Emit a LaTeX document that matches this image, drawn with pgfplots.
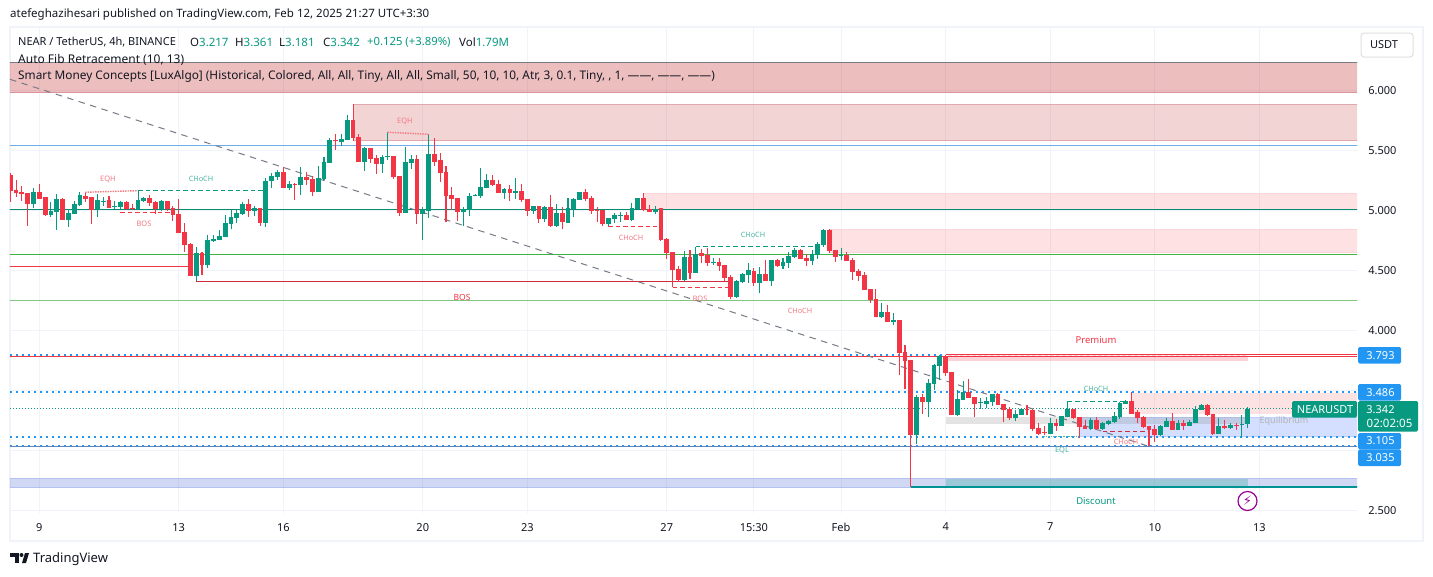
\documentclass[border=0pt]{standalone}
\usepackage{pgfplots}
\usepackage{pgfplotstable}
\usepackage{fontspec}
\pgfplotsset{compat=1.18}
\setmainfont{Noto Sans}
\newfontfamily\dejavu{DejaVu Sans}
\definecolor{upc}{HTML}{089981}
\definecolor{dnc}{HTML}{F23645}
\definecolor{gridc}{HTML}{F0F3FA}
\definecolor{framec}{HTML}{F0F3FA}
\definecolor{ink}{HTML}{131722}
\definecolor{blu}{HTML}{2196F3}
\definecolor{fibg}{HTML}{787B86}
\definecolor{palered}{HTML}{F27C84}
\definecolor{paleteal}{HTML}{4DB8A4}
\definecolor{zdark}{HTML}{B22833}
\definecolor{ztop}{HTML}{C62828}
\definecolor{zblue}{HTML}{2962FF}
\definecolor{zperi}{HTML}{2A4FCF}
\definecolor{lvlblue}{HTML}{6DAEE8}
\definecolor{lvlperi}{HTML}{5B86C4}
\pgfplotstableread{
i o h l c
4 5.053 5.183 5.019 5.150
7 4.961 5.069 4.944 4.992
8 4.986 5.133 4.836 5.092
10 4.919 5.008 4.861 4.975
11 4.969 5.075 4.969 5.050
12 5.044 5.150 5.036 5.125
15 5.006 5.133 4.944 5.083
16 5.072 5.108 5.033 5.078
18 5.025 5.075 5.011 5.033
19 5.025 5.075 5.011 5.067
22 5.006 5.161 5.000 5.083
23 5.078 5.108 5.064 5.100
26 5.006 5.083 4.989 5.075
32 4.450 4.689 4.408 4.642
34 4.542 4.792 4.519 4.750
35 4.742 4.792 4.736 4.758
36 4.750 4.833 4.750 4.783
37 4.775 4.958 4.775 4.892
38 4.883 5.000 4.839 4.942
39 4.933 5.000 4.892 4.975
40 4.967 5.067 4.958 5.050
42 4.992 5.033 4.950 5.017
44 4.892 5.267 4.858 5.242
45 5.242 5.306 5.183 5.283
46 5.275 5.333 5.250 5.317
48 5.183 5.239 5.167 5.217
50 5.208 5.358 5.125 5.275
53 5.150 5.367 5.150 5.267
54 5.258 5.442 5.250 5.400
55 5.392 5.600 5.392 5.583
57 5.567 5.633 5.533 5.592
58 5.583 5.792 5.583 5.750
61 5.400 5.525 5.325 5.517
64 5.383 5.458 5.308 5.442
65 5.442 5.650 5.417 5.450
68 4.975 5.525 4.975 5.400
69 5.392 5.458 5.342 5.425
71 4.967 5.025 4.750 5.000
72 4.992 5.633 4.933 5.467
78 4.983 5.025 4.867 5.006
79 5.000 5.142 4.950 5.117
80 5.117 5.133 5.117 5.125
81 5.114 5.350 5.097 5.192
82 5.183 5.300 5.181 5.250
85 5.142 5.183 5.092 5.175
87 5.142 5.267 5.092 5.158
90 4.992 5.033 4.967 5.033
92 4.925 5.033 4.903 5.025
94 4.867 5.050 4.861 4.975
96 4.892 5.100 4.889 5.017
97 5.008 5.100 4.944 5.092
98 5.083 5.150 5.083 5.150
103 4.881 4.933 4.861 4.933
104 4.925 4.972 4.889 4.958
105 4.953 4.981 4.903 4.961
107 4.917 5.056 4.911 5.017
108 5.008 5.100 5.008 5.100
111 4.983 5.033 4.967 5.008
116 4.417 4.658 4.408 4.608
118 4.475 4.694 4.475 4.633
121 4.558 4.600 4.542 4.567
125 4.275 4.417 4.267 4.408
126 4.400 4.475 4.392 4.467
127 4.458 4.558 4.392 4.500
129 4.392 4.525 4.308 4.467
131 4.408 4.583 4.367 4.583
133 4.533 4.597 4.511 4.567
134 4.558 4.650 4.517 4.617
135 4.608 4.681 4.600 4.667
138 4.575 4.667 4.542 4.633
139 4.625 4.733 4.592 4.717
140 4.708 4.842 4.694 4.833
143 4.617 4.683 4.583 4.625
150 4.108 4.225 4.100 4.150
152 4.069 4.142 4.042 4.083
156 3.125 3.458 3.050 3.442
158 3.400 3.592 3.275 3.558
159 3.550 3.717 3.500 3.708
160 3.700 3.792 3.583 3.783
163 3.292 3.500 3.283 3.425
164 3.417 3.575 3.417 3.483
167 3.392 3.433 3.342 3.400
168 3.383 3.442 3.350 3.408
169 3.400 3.467 3.367 3.467
173 3.267 3.333 3.242 3.300
174 3.292 3.342 3.292 3.342
179 3.133 3.267 3.133 3.225
181 3.200 3.283 3.200 3.283
182 3.275 3.339 3.272 3.339
186 3.175 3.267 3.167 3.250
188 3.175 3.233 3.167 3.225
189 3.217 3.250 3.208 3.242
190 3.233 3.317 3.225 3.283
191 3.275 3.400 3.258 3.392
192 3.386 3.417 3.383 3.406
198 3.125 3.208 3.117 3.200
199 3.192 3.267 3.192 3.242
201 3.167 3.250 3.167 3.225
203 3.200 3.250 3.200 3.233
204 3.225 3.367 3.225 3.339
205 3.333 3.383 3.333 3.375
208 3.133 3.267 3.133 3.200
210 3.183 3.225 3.175 3.208
212 3.208 3.292 3.100 3.217
213 3.217 3.361 3.181 3.342
}\upt
\pgfplotstableread{
i o h l c
0 5.292 5.311 5.069 5.161
1 5.167 5.250 5.111 5.145
2 5.150 5.200 5.078 5.136
3 5.142 5.142 4.867 5.053
5 5.150 5.217 5.094 5.094
6 5.108 5.108 4.950 4.961
9 5.092 5.097 4.919 4.919
13 5.117 5.150 5.069 5.092
14 5.108 5.108 4.886 5.003
17 5.083 5.117 5.019 5.019
20 5.067 5.072 5.000 5.006
21 5.017 5.050 5.000 5.006
24 5.100 5.125 5.036 5.058
25 5.067 5.078 4.967 5.006
27 5.075 5.078 4.989 5.006
28 5.017 5.033 4.911 4.961
29 4.967 5.092 4.806 4.811
30 4.817 4.889 4.653 4.711
31 4.717 4.722 4.450 4.450
33 4.642 4.653 4.458 4.542
41 5.050 5.092 4.942 4.992
43 5.017 5.017 4.867 4.892
47 5.317 5.356 5.183 5.183
49 5.217 5.222 5.083 5.208
51 5.272 5.317 5.208 5.250
52 5.258 5.283 5.117 5.150
56 5.583 5.633 5.500 5.575
59 5.750 5.883 5.575 5.600
60 5.608 5.633 5.400 5.400
62 5.517 5.517 5.392 5.425
63 5.433 5.458 5.300 5.383
66 5.450 5.450 5.258 5.275
67 5.283 5.283 4.950 4.975
70 5.425 5.458 4.883 4.967
73 5.467 5.600 5.367 5.400
74 5.417 5.475 5.233 5.308
75 5.317 5.367 4.900 5.117
76 5.125 5.192 5.000 5.092
77 5.100 5.100 4.911 4.983
83 5.250 5.292 5.200 5.208
84 5.217 5.250 5.142 5.142
86 5.175 5.208 5.075 5.142
88 5.158 5.217 5.069 5.083
89 5.092 5.092 4.950 4.992
91 5.033 5.033 4.894 4.925
93 5.025 5.125 4.861 4.867
95 4.975 5.028 4.839 4.900
99 5.150 5.175 5.075 5.092
100 5.100 5.117 4.964 4.992
101 5.000 5.022 4.897 4.992
102 5.003 5.003 4.867 4.881
106 4.956 4.986 4.917 4.917
109 5.100 5.142 4.994 5.000
110 5.008 5.042 4.983 4.983
112 5.017 5.017 4.742 4.750
113 4.758 4.767 4.592 4.642
114 4.650 4.650 4.356 4.500
115 4.508 4.533 4.397 4.417
117 4.608 4.667 4.425 4.475
119 4.642 4.675 4.558 4.617
120 4.628 4.683 4.533 4.558
122 4.567 4.600 4.492 4.533
123 4.542 4.542 4.408 4.433
124 4.442 4.458 4.256 4.275
128 4.492 4.517 4.367 4.392
130 4.467 4.583 4.408 4.408
132 4.583 4.592 4.528 4.533
136 4.667 4.675 4.592 4.592
137 4.600 4.633 4.536 4.575
141 4.833 4.842 4.644 4.658
142 4.667 4.667 4.567 4.608
144 4.625 4.650 4.575 4.575
145 4.583 4.600 4.417 4.483
146 4.492 4.508 4.408 4.450
147 4.458 4.483 4.333 4.333
148 4.342 4.342 4.225 4.250
149 4.258 4.342 4.106 4.108
151 4.150 4.208 4.067 4.067
153 4.083 4.083 3.625 3.808
154 3.817 3.875 3.508 3.742
155 3.750 3.750 2.694 3.125
157 3.442 3.467 3.300 3.400
161 3.783 3.792 3.617 3.642
162 3.650 3.650 3.292 3.292
165 3.483 3.592 3.433 3.433
166 3.442 3.442 3.275 3.383
170 3.467 3.475 3.375 3.375
171 3.383 3.383 3.233 3.333
172 3.342 3.358 3.250 3.267
175 3.342 3.375 3.292 3.333
176 3.333 3.342 3.158 3.175
177 3.183 3.225 3.125 3.133
178 3.150 3.200 3.125 3.142
180 3.225 3.258 3.158 3.200
183 3.339 3.339 3.256 3.267
184 3.275 3.275 3.103 3.192
185 3.200 3.250 3.175 3.175
187 3.250 3.272 3.167 3.175
193 3.406 3.481 3.300 3.300
194 3.317 3.333 3.225 3.267
195 3.275 3.283 3.183 3.192
196 3.200 3.200 3.033 3.167
197 3.175 3.208 3.067 3.125
200 3.242 3.308 3.167 3.167
202 3.225 3.250 3.167 3.200
206 3.375 3.383 3.283 3.292
207 3.300 3.300 3.125 3.133
209 3.200 3.250 3.175 3.183
211 3.208 3.225 3.167 3.200
}\dnt
\newcommand{\lab}[5]{\node[font=\fontsize{#4}{#4}\selectfont,text=#5,inner sep=0pt] at (#1pt,-#2pt) {#3};}
\newcommand{\ltx}[4]{\node[anchor=west,inner sep=0pt,font=\fontsize{#3}{#3}\selectfont,text=ink] at (#1pt,-#2pt) {#4};}
\begin{document}
\begin{tikzpicture}[x=1pt,y=1pt]
\path[use as bounding box,fill=white] (0pt,0pt) rectangle (1433pt,-576pt);
\draw[framec,line width=2pt] (9.5pt,-26.5pt) rectangle (1423pt,-541pt);
\begin{axis}[at={(10pt,-513pt)},anchor=south west,scale only axis,width=1347pt,height=486pt,
 xmin=-0.043,xmax=231.8,ymin=2.475,ymax=6.525,
 axis line style={draw=none},major tick length=0pt,
 grid=major,grid style={color=gridc,line width=0.9pt},
 xtick={5,29,47,71,89,113,128,143,161,179,197,215},
 xticklabels={9,13,16,20,23,27,15:30,\textbf{Feb},4,7,10,13},
 ytick={2.5,3,3.5,4,4.5,5,5.5,6},
 yticklabels={2.500,,,4.000,4.500,5.000,5.500,6.000},
 yticklabel pos=right,
 ticklabel style={font=\fontsize{11}{12}\selectfont,text=ink},
 xticklabel style={yshift=-6.5pt},
 yticklabel style={anchor=east,xshift=43pt,yshift=-0.8pt}]
% zones
\addplot[forget plot,fill=ztop,fill opacity=0.3,draw=none] coordinates {(-1,6.233)(232,6.233)(232,5.983)(-1,5.983)} --cycle;
\addplot[forget plot,fibg,line width=1pt] coordinates {(-1,6.233)(232,6.233)};
\addplot[forget plot,draw=zdark!50!white,line width=0.8pt] coordinates {(-1,5.983)(232,5.983)};
\addplot[forget plot,fill=ztop,fill opacity=0.2,draw=zdark!40!white,line width=0.8pt] coordinates {(59,5.883)(232,5.883)(232,5.579)(59,5.579)} --cycle;
\addplot[forget plot,fill=dnc,fill opacity=0.15,draw=dnc!22!white,line width=0.8pt] coordinates {(109,5.139)(232,5.139)(232,5.004)(109,5.004)} --cycle;
\addplot[forget plot,fill=dnc,fill opacity=0.15,draw=dnc!22!white,line width=0.8pt] coordinates {(141,4.839)(232,4.839)(232,4.644)(141,4.644)} --cycle;
\addplot[forget plot,fill=dnc,fill opacity=0.14,draw=none] coordinates {(193,3.478)(232,3.478)(232,3.300)(193,3.300)} --cycle;
\addplot[forget plot,fill=dnc,fill opacity=0.22,draw=none] coordinates {(161,3.792)(213,3.792)(213,3.744)(161,3.744)} --cycle;
\addplot[forget plot,fill=zblue,fill opacity=0.2,draw=zblue!30!white,line width=0.8pt] coordinates {(184,3.272)(232,3.272)(232,3.111)(184,3.111)} --cycle;
\addplot[forget plot,fill=gray,fill opacity=0.22,draw=none] coordinates {(161,3.275)(213,3.275)(213,3.217)(161,3.217)} --cycle;
\addplot[forget plot,fill=zperi,fill opacity=0.22,draw=zperi!35!white,line width=0.8pt] coordinates {(-1,2.767)(232,2.767)(232,2.692)(-1,2.692)} --cycle;
\addplot[forget plot,fill=upc,fill opacity=0.25,draw=none] coordinates {(161,2.758)(213,2.758)(213,2.692)(161,2.692)} --cycle;
% horizontal levels
\addplot[forget plot,color=lvlblue,line width=1pt] coordinates {(-1,5.539)(232,5.539)};
\addplot[forget plot,color=upc!90!black,line width=1pt] coordinates {(-1,5.004)(232,5.004)};
\addplot[forget plot,color=green!60!black!75!white,line width=1pt] coordinates {(-1,4.631)(232,4.631)};
\addplot[forget plot,color=green!55!black!50!white,line width=1pt] coordinates {(-1,4.247)(232,4.247)};
\addplot[forget plot,color=dnc,line width=1pt] coordinates {(-1,4.531)(31,4.531)};
\addplot[forget plot,color=dnc!85!black,line width=1pt] coordinates {(32,4.408)(124,4.408)};
\addplot[forget plot,color=dnc,line width=1pt] coordinates {(-1,3.781)(232,3.781)};
\addplot[forget plot,color=dnc,line width=1pt] coordinates {(161,3.800)(232,3.800)};
\addplot[forget plot,color=blu,line width=2pt,dash pattern=on 2pt off 4pt] coordinates {(-1,3.795)(161,3.795)};
\addplot[forget plot,color=white,line width=1pt,dash pattern=on 2pt off 4pt] coordinates {(161,3.790)(232,3.790)};
\addplot[forget plot,color=blu,line width=2pt,dash pattern=on 2pt off 4pt] coordinates {(-1,3.486)(232,3.486)};
\addplot[forget plot,color=blu,line width=2pt,dash pattern=on 2pt off 4pt] coordinates {(-1,3.105)(232,3.105)};
\addplot[forget plot,color=lvlperi,line width=1pt] coordinates {(-1,3.030)(232,3.030)};
\addplot[forget plot,color=blu,line width=1.3pt,dash pattern=on 2pt off 4pt] coordinates {(-1,3.038)(232,3.038)};
\addplot[forget plot,color=upc,line width=1pt,dash pattern=on 1pt off 2pt] coordinates {(-1,3.342)(232,3.342)};
\addplot[forget plot,color=teal!85!cyan,line width=1.3pt] coordinates {(155,2.692)(232,2.692)};
% fib diagonal
\addplot[forget plot,color=fibg,line width=1pt,dash pattern=on 6.5pt off 5.5pt] coordinates {(-0.04,6.089)(195.8,3.033)};
% candles
\addplot[forget plot,draw=none,error bars/.cd,y dir=plus,y explicit,error mark=none,error bar style={line width=1.05pt,color=upc}] table[x=i,y=l,y error plus expr=\thisrow{h}-\thisrow{l}] {\upt};
\addplot[forget plot,draw=none,error bars/.cd,y dir=plus,y explicit,error mark=none,error bar style={line width=1.05pt,color=dnc}] table[x=i,y=l,y error plus expr=\thisrow{h}-\thisrow{l}] {\dnt};
\addplot[forget plot,draw=none,error bars/.cd,y dir=plus,y explicit,error mark=none,error bar style={line width=4.8pt,color=upc}] table[x=i,y=o,y error plus expr=\thisrow{c}-\thisrow{o}] {\upt};
\addplot[forget plot,draw=none,error bars/.cd,y dir=plus,y explicit,error mark=none,error bar style={line width=4.8pt,color=dnc}] table[x=i,y=c,y error plus expr=\thisrow{o}-\thisrow{c}] {\dnt};
% structure lines
\addplot[forget plot,color=palered,line width=1.4pt,dash pattern=on 1.5pt off 1pt] coordinates {(12.9,5.148)(22,5.161)};
\addplot[forget plot,color=palered,line width=1.4pt,dash pattern=on 1.5pt off 1pt] coordinates {(64.9,5.648)(72,5.631)};
\addplot[forget plot,color=upc,line width=1pt,dash pattern=on 4.5pt off 3pt] coordinates {(22,5.161)(44,5.161)};
\addplot[forget plot,color=dnc,line width=1pt,dash pattern=on 4.5pt off 3pt] coordinates {(18.9,4.983)(27.5,4.983)};
\addplot[forget plot,color=dnc,line width=1pt,dash pattern=on 4.5pt off 3pt] coordinates {(102.9,4.864)(111.3,4.864)};
\addplot[forget plot,color=upc,line width=1pt,dash pattern=on 4.5pt off 3pt] coordinates {(118,4.698)(138.2,4.698)};
\addplot[forget plot,color=dnc,line width=1pt,dash pattern=on 4.5pt off 3pt] coordinates {(114,4.356)(123.5,4.356)};
\addplot[forget plot,color=upc,line width=1pt] coordinates {(182,3.339)(182,3.406)};
\addplot[forget plot,color=upc,line width=1pt,dash pattern=on 4.5pt off 3pt] coordinates {(182,3.406)(191.5,3.406)};
\addplot[forget plot,color=dnc!85!black,line width=1pt,dash pattern=on 4.5pt off 3pt] coordinates {(188,3.156)(196,3.156)};
\addplot[forget plot,color=paleteal,line width=1.4pt,dash pattern=on 1.5pt off 1pt] coordinates {(177.8,3.111)(183.6,3.111)};
\end{axis}
% cut of the lowest price label, as in the screen capture
\fill[white] (1358pt,-513.5pt) rectangle (1420pt,-520pt);
% texts
\ltx{10}{14.8}{11.5}{atefeghazihesari published on TradingView.com, Feb 12, 2025 21:27 UTC+3:30}
\ltx{18}{42.5}{11}{NEAR / TetherUS, 4h, BINANCE}
\ltx{190}{42.5}{11.5}{O\textcolor{upc}{3.217}}
\ltx{235}{42.5}{11.5}{H\textcolor{upc}{3.361}}
\ltx{279}{42.5}{11.5}{L\textcolor{upc}{3.181}}
\ltx{323}{42.5}{11.5}{C\textcolor{upc}{3.342}}
\ltx{367}{42.5}{11.3}{\textcolor{upc}{+0.125 (+3.89\%)}}
\ltx{459}{42.5}{11.5}{Vol\textcolor{upc}{1.79M}}
\ltx{18}{59.5}{12}{Auto Fib Retracement (10, 13)}
\ltx{18}{76.5}{11.85}{Smart Money Concepts [LuxAlgo] (Historical, Colored, All, All, Tiny, All, All, Small, 50, 10, 10, Atr, 3, 0.1, Tiny, , 1, ——, ——, ——)}
% labels
\lab{108}{179}{EQH}{7.5}{palered}
\lab{201}{179}{CHoCH}{7.3}{paleteal}
\lab{144}{224}{BOS}{7.5}{palered}
\lab{405}{121}{EQH}{7.5}{palered}
\lab{462}{297}{BOS}{8.5}{dnc}
\lab{631}{238}{CHoCH}{7.3}{palered}
\lab{753}{235}{CHoCH}{7.3}{paleteal}
\lab{700}{299}{BOS}{7.5}{palered}
\lab{800}{311}{CHoCH}{7.3}{palered}
\lab{1096}{340}{Premium}{9.5}{dnc}
\lab{1096}{389}{CHoCH}{7.3}{paleteal}
\lab{1062}{450}{EQL}{7.5}{paleteal}
\lab{1126}{442}{CHoCH}{7.3}{palered}
\lab{1096}{501.5}{Discount}{9.5}{upc}
\lab{1284}{421}{Equilibrium}{9}{gray!60!white}
% USDT button
\draw[gray!25!white,line width=1pt,fill=white,rounded corners=3pt] (1361pt,-33pt) rectangle (1413pt,-57pt);
\lab{1384}{45}{USDT}{11}{ink}
% price labels
\fill[blu,rounded corners=1.5pt] (1358pt,-347pt) rectangle (1401pt,-363.5pt);
\lab{1380.5}{355.5}{3.793}{11}{white}
\fill[blu,rounded corners=1.5pt] (1358pt,-384pt) rectangle (1401pt,-400.5pt);
\lab{1380.5}{392.5}{3.486}{11}{white}
\fill[blu,rounded corners=1.5pt] (1358pt,-433pt) rectangle (1401pt,-449.5pt);
\lab{1380.5}{441}{3.105}{11}{white}
\fill[blu,rounded corners=1.5pt] (1358pt,-449.5pt) rectangle (1401pt,-466pt);
\lab{1380.5}{458}{3.035}{11}{white}
\fill[upc,rounded corners=1.5pt] (1292pt,-401pt) rectangle (1357pt,-417.7pt);
\lab{1325}{409.5}{NEARUSDT}{11}{white}
\fill[upc,rounded corners=1.5pt] (1358pt,-401pt) rectangle (1418pt,-431.7pt);
\lab{1380.5}{409.5}{3.342}{11}{white}
\lab{1389.5}{423.5}{02:02:05}{11.5}{white}
% lightning
\draw[color=violet!80!magenta,line width=1.2pt] (1247.5pt,-501pt) circle (9.5pt);
\node[inner sep=0pt,text=violet!80!magenta,font=\dejavu\fontsize{13}{13}\selectfont] at (1247.5pt,-501pt) {⚡};
% footer logo
\fill[ink] (10pt,-553pt) rectangle (19pt,-557pt);
\fill[ink] (15pt,-557pt) rectangle (19pt,-563pt);
\fill[ink] (21.5pt,-555pt) circle (2pt);
\fill[ink] (22pt,-563pt) -- (25pt,-553pt) -- (29pt,-553pt) -- (26pt,-563pt) -- cycle;
\node[anchor=west,inner sep=0pt,font=\fontsize{13}{13}\selectfont,text=ink] at (33pt,-558.8pt) {TradingView};
\end{tikzpicture}
\end{document}
